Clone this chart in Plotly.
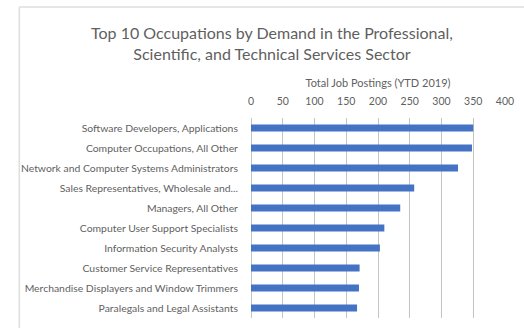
import plotly.graph_objects as go

occupations = [
    "Software Developers, Applications",
    "Computer Occupations, All Other",
    "Network and Computer Systems Administrators",
    "Sales Representatives, Wholesale and...",
    "Managers, All Other",
    "Computer User Support Specialists",
    "Information Security Analysts",
    "Customer Service Representatives",
    "Merchandise Displayers and Window Trimmers",
    "Paralegals and Legal Assistants",
]
postings = [350, 348, 326, 257, 235, 210, 203, 171, 170, 167]
x_ticks = [0, 50, 100, 150, 200, 250, 300, 350, 400]

FONT = "Lato"
TEXT = "#5f5f5f"
GRID = "#c4c4c4"

# plot area geometry in pixels (used for the outer frame in paper units)
W, H = 524, 328
ML, MR, MT, MB = 251, 11, 118, 10
PW, PH = W - ML - MR, H - MT - MB

fig = go.Figure(
    go.Bar(
        x=postings,
        y=occupations,
        orientation="h",
        marker=dict(color="#4472C4", line=dict(width=0)),
        width=0.36,
    )
)

frame_left = -(ML - 12) / PW
frame_top = 1 + (MT - 7) / PH

# outer chart frame: left and top edges
frame_shapes = [
    dict(type="line", xref="paper", yref="paper",
         x0=frame_left, x1=frame_left, y0=-0.1, y1=frame_top,
         line=dict(color="#dedede", width=1.5), layer="above"),
    dict(type="line", xref="paper", yref="paper",
         x0=frame_left, x1=1.1, y0=frame_top, y1=frame_top,
         line=dict(color="#dedede", width=1.5), layer="above"),
]

fig.update_layout(
    width=W,
    height=H,
    margin=dict(l=ML, r=MR, t=MT, b=MB),
    paper_bgcolor="white",
    plot_bgcolor="white",
    showlegend=False,
    font=dict(family=FONT, color=TEXT),
    title=dict(
        text="Top 10 Occupations by Demand in the Professional,<br>Scientific, and Technical Services Sector",
        x=0.519,
        xanchor="center",
        y=0.882,
        yanchor="middle",
        font=dict(family=FONT, size=16, color=TEXT),
    ),
    xaxis=dict(
        side="top",
        range=[0, 400],
        tickmode="array",
        tickvals=x_ticks,
        ticktext=[str(v) for v in x_ticks],
        showgrid=True,
        gridcolor=GRID,
        gridwidth=1,
        zeroline=True,
        zerolinecolor=GRID,
        zerolinewidth=1,
        showline=False,
        ticks="outside",
        ticklen=8,
        tickcolor="rgba(0,0,0,0)",
        tickfont=dict(family=FONT, size=10.5, color=TEXT),
        title=dict(
            text="Total Job Postings (YTD 2019)",
            font=dict(family=FONT, size=11, color=TEXT),
            standoff=4,
        ),
    ),
    yaxis=dict(
        categoryorder="array",
        categoryarray=occupations[::-1],
        showgrid=False,
        showline=False,
        ticks="outside",
        ticklen=10,
        tickcolor="rgba(0,0,0,0)",
        tickfont=dict(family=FONT, size=10.4, color=TEXT),
    ),
    shapes=frame_shapes,
)

fig.write_html("out.html")
